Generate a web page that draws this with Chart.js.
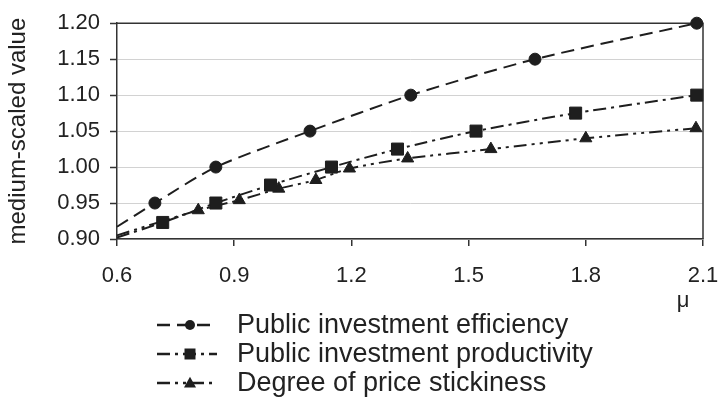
<!DOCTYPE html>
<html>
<head>
<meta charset="utf-8">
<script src="https://cdn.jsdelivr.net/npm/chart.js@4/dist/chart.umd.min.js"></script>
<style>
  html, body { margin: 0; padding: 0; background: #ffffff; }
  #wrap { width: 719px; height: 398px; position: relative; }
</style>
</head>
<body>
<div id="wrap"><canvas id="chart"></canvas></div>
<script>
// Series names
const seriesNames = [
  'Public investment efficiency',
  'Public investment productivity',
  'Degree of price stickiness'
];

// μ positions and medium-scaled values; the first entry of each series is
// where its fitted curve meets the left edge (drawn without a marker)
const efficiencyMu  = [0.600, 0.697, 0.853, 1.094, 1.352, 1.670, 2.084];
const efficiencyVal = [0.917, 0.950, 1.000, 1.050, 1.100, 1.150, 1.200];

const productivityMu  = [0.600, 0.717, 0.853, 0.993, 1.149, 1.318, 1.519, 1.774, 2.084];
const productivityVal = [0.902, 0.923, 0.950, 0.975, 1.000, 1.025, 1.050, 1.075, 1.100];

const stickinessMu  = [0.600, 0.808, 0.913, 1.014, 1.109, 1.195, 1.344, 1.557, 1.800, 2.082];
const stickinessVal = [0.905, 0.940, 0.954, 0.970, 0.982, 0.998, 1.012, 1.025, 1.040, 1.054];

// Axis ticks and titles
const xTicks = [0.6, 0.9, 1.2, 1.5, 1.8, 2.1];
const yTicks = [0.90, 0.95, 1.00, 1.05, 1.10, 1.15, 1.20];
const xAxisTitle = 'μ';
const yAxisTitle = 'medium-scaled value';

const INK = '#1e1e1e';
const AXIS = '#333333';
const GRID = '#d2d2d2';
const FONT = '"Liberation Sans", Arial, Helvetica, sans-serif';

function points(xs, ys) {
  return xs.map((x, i) => ({ x: x, y: ys[i] }));
}
function radii(n, r) {
  // no marker at the curve's starting point
  return Array.from({ length: n }, (_, i) => (i === 0 ? 0 : r));
}

function series(label, xs, ys, style, r, dash) {
  return {
    label: label,
    data: points(xs, ys),
    borderColor: INK,
    backgroundColor: INK,
    borderWidth: 2,
    borderDash: dash,
    pointStyle: style,
    pointRadius: radii(xs.length, r),
    pointHoverRadius: radii(xs.length, r),
    pointBackgroundColor: INK,
    pointBorderColor: INK,
    pointBorderWidth: 1,
    tension: 0.25,
    fill: false,
    clip: false
  };
}

function drawMarker(ctx, style, x, y, r) {
  ctx.beginPath();
  if (style === 'circle') {
    ctx.arc(x, y, r, 0, Math.PI * 2);
  } else if (style === 'rect') {
    ctx.rect(x - r, y - r, 2 * r, 2 * r);
  } else {
    ctx.moveTo(x, y - r * 1.05);
    ctx.lineTo(x + r, y + r * 0.75);
    ctx.lineTo(x - r, y + r * 0.75);
    ctx.closePath();
  }
  ctx.fill();
}

// Key below the plot plus the μ label at the right end of the x axis
const keyPlugin = {
  id: 'seriesKey',
  afterDraw(chart) {
    const ctx = chart.ctx;
    const area = chart.chartArea;
    const sizes = { circle: 5, rect: 5.5, triangle: 6 };
    ctx.save();
    chart.data.datasets.forEach((ds, i) => {
      const y = 325 + 29 * i;
      ctx.strokeStyle = ds.borderColor;
      ctx.lineWidth = 2.5;
      ctx.setLineDash(ds.borderDash);
      ctx.beginPath();
      ctx.moveTo(157, y);
      ctx.lineTo(217, y);
      ctx.stroke();
      ctx.setLineDash([]);
      ctx.fillStyle = INK;
      drawMarker(ctx, ds.pointStyle, 190, y, sizes[ds.pointStyle]);
      ctx.fillStyle = '#222222';
      ctx.font = '27px ' + FONT;
      ctx.textAlign = 'left';
      ctx.textBaseline = 'middle';
      ctx.fillText(ds.label, 237, y + 1);
    });
    ctx.fillStyle = '#222222';
    ctx.font = '22px ' + FONT;
    ctx.textAlign = 'center';
    ctx.textBaseline = 'middle';
    ctx.fillText(xAxisTitle, area.right - 20, area.bottom + 62);
    ctx.restore();
  }
};

// Frame on the top and right edges of the plot
const framePlugin = {
  id: 'plotFrame',
  beforeDatasetsDraw(chart) {
    const ctx = chart.ctx;
    const a = chart.chartArea;
    ctx.save();
    ctx.strokeStyle = AXIS;
    ctx.lineWidth = 1.5;
    ctx.beginPath();
    ctx.moveTo(a.left, a.top);
    ctx.lineTo(a.right, a.top);
    ctx.lineTo(a.right, a.bottom);
    ctx.stroke();
    ctx.restore();
  }
};

new Chart(document.getElementById('chart'), {
  type: 'line',
  data: {
    datasets: [
      series(seriesNames[0], efficiencyMu, efficiencyVal, 'circle', 6, [13, 7]),
      series(seriesNames[1], productivityMu, productivityVal, 'rect', 8.5, [13, 5, 3, 5]),
      series(seriesNames[2], stickinessMu, stickinessVal, 'triangle', 7, [13, 5, 3, 5, 3, 5])
    ]
  },
  options: {
    responsive: true,
    maintainAspectRatio: false,
    animation: false,
    devicePixelRatio: 1,
    layout: { padding: { top: 23, right: 0, bottom: 0, left: 0 } },
    plugins: {
      legend: { display: false },
      tooltip: { enabled: false }
    },
    scales: {
      x: {
        type: 'linear',
        min: 0.6,
        max: 2.1,
        afterBuildTicks: s => { s.ticks = xTicks.map(v => ({ value: v })); },
        afterFit: s => { s.height = 159; s.paddingRight = 16; s.paddingLeft = 0; },
        ticks: {
          color: '#222222',
          font: { family: FONT, size: 22 },
          padding: 17,
          maxRotation: 0,
          callback: v => Number(v).toFixed(1)
        },
        grid: {
          drawOnChartArea: false,
          drawTicks: true,
          tickLength: 7,
          tickColor: AXIS,
          lineWidth: 1.5
        },
        border: { display: true, color: AXIS, width: 1.5 }
      },
      y: {
        type: 'linear',
        min: 0.9,
        max: 1.2,
        afterBuildTicks: s => { s.ticks = yTicks.map(v => ({ value: v })); },
        afterFit: s => { s.width = 117; },
        ticks: {
          color: '#222222',
          font: { family: FONT, size: 22 },
          padding: 10,
          callback: v => Number(v).toFixed(2)
        },
        grid: {
          color: GRID,
          lineWidth: 1,
          drawTicks: true,
          tickLength: 7,
          tickColor: AXIS,
          tickWidth: 1.5
        },
        border: { display: true, color: AXIS, width: 1.5 },
        title: {
          display: true,
          text: yAxisTitle,
          color: '#222222',
          font: { family: FONT, size: 24 },
          padding: { top: 4, bottom: 0 }
        }
      }
    }
  },
  plugins: [framePlugin, keyPlugin]
});
</script>
</body>
</html>
